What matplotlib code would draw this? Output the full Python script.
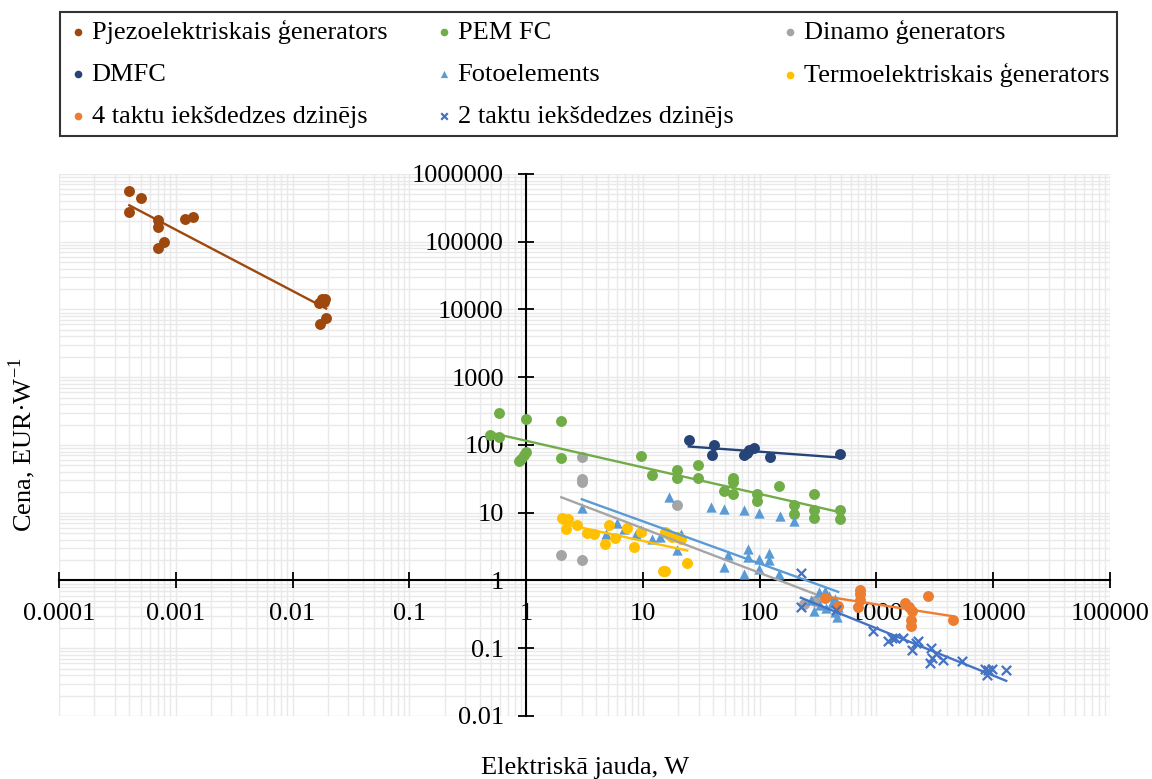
import numpy as np
import matplotlib
matplotlib.use("Agg")
import matplotlib.pyplot as plt
from matplotlib.ticker import FixedLocator, FixedFormatter, LogLocator, NullFormatter

plt.rcParams['font.family'] = ['Liberation Serif', 'DejaVu Serif']
plt.rcParams['mathtext.fontset'] = 'custom'
plt.rcParams['mathtext.rm'] = 'Liberation Serif'
plt.rcParams['font.size'] = 19

# --- data (power W, price EUR/W) ---
piezo_x = [0.0004, 0.0005, 0.0004, 0.0007, 0.0007, 0.0008, 0.0007, 0.0012, 0.0014,
           0.018, 0.0185, 0.017, 0.019, 0.0194, 0.0173]
piezo_y = [552000, 441000, 274000, 209000, 163000, 97700, 80700, 213000, 234000,
           14300, 13000, 12500, 14500, 7400, 6000]

pem_x = [0.49, 0.59, 0.59, 0.87, 0.9, 0.96, 1.0, 1.0, 1.98, 1.98, 9.7, 11.9, 19.6, 19.6,
         29.5, 29.5, 49, 59, 59, 59, 95, 95, 147, 195, 195, 290, 290, 290, 490, 490]
pem_y = [142, 300, 133, 58, 62, 70, 78, 243, 224, 64, 68, 36, 43, 33,
         51, 32, 21, 32, 28, 19, 19, 15, 25, 13, 9.6, 19, 11, 8.3, 11, 8.1]

dinamo_x = [2.0, 3.0, 3.0, 3.0, 3.0, 19.6, 240, 300]
dinamo_y = [2.34, 66, 31.6, 28, 2.02, 13.2, 0.45, 0.5]

dmfc_x = [24.7, 39, 41, 73, 78, 81, 89, 123, 490]
dmfc_y = [119, 72, 100, 72, 77, 83, 89, 66, 74]

foto_x = [3.0, 4.8, 6.0, 6.9, 8.7, 9.7, 11.9, 14.1, 16.7, 19.6, 21, 38, 49, 74, 98, 148, 198,
          54, 49, 74, 79, 79, 98, 98, 120, 120, 145,
          319, 360, 390, 437, 330, 373, 437, 290, 470, 273, 412, 455]
foto_y = [11.8, 4.77, 7.0, 5.8, 4.9, 5.5, 4.1, 4.36, 17.3, 2.8, 4.77, 12.3, 11.2, 10.8, 10.0, 8.9, 7.5,
          2.4, 1.6, 1.23, 2.9, 2.2, 2.09, 1.49, 2.53, 2.02, 1.25,
          0.67, 0.71, 0.6, 0.54, 0.44, 0.39, 0.34, 0.35, 0.4, 0.51, 0.46, 0.29]

termo_x = [2.04, 2.3, 2.2, 2.74, 3.34, 3.8, 4.7, 5.1, 5.8, 7.3, 8.4, 9.7,
           15.6, 16.5, 17.8, 19.6, 21, 14.8, 15.6, 24]
termo_y = [8.3, 8.0, 5.8, 6.6, 5.0, 4.8, 3.5, 6.5, 4.3, 6.0, 3.1, 5.2,
           5.2, 4.9, 4.45, 4.36, 4.1, 1.40, 1.37, 1.8]

takt4_x = [360, 470, 726, 726, 726, 700, 1760, 1900, 2000, 1990, 1990, 2780, 4490]
takt4_y = [0.55, 0.42, 0.72, 0.64, 0.51, 0.40, 0.46, 0.41, 0.36, 0.26, 0.21, 0.6, 0.26]

takt2_x = [225, 225, 449, 942, 1260, 1370, 1430, 1670, 2000, 2200, 2250, 2930, 3000,
           2860, 3260, 3730, 5400, 8500, 9100, 9700, 8900, 12900]
takt2_y = [1.3, 0.41, 0.37, 0.177, 0.127, 0.143, 0.14, 0.143, 0.094, 0.119, 0.128, 0.1, 0.072,
           0.06, 0.083, 0.068, 0.065, 0.049, 0.047, 0.05, 0.04, 0.048]

x_ticks = [1e-4, 1e-3, 1e-2, 1e-1, 1, 10, 100, 1000, 10000, 100000]
x_tick_labels = ['0.0001', '0.001', '0.01', '0.1', '1', '10', '100', '1000', '10000', '100000']
y_ticks = [0.01, 0.1, 1, 10, 100, 1000, 10000, 100000, 1000000]
y_tick_labels = ['0.01', '0.1', '1', '10', '100', '1000', '10000', '100000', '1000000']

series = [
    ('Pjezoelektriskais ģenerators', piezo_x, piezo_y, '#9E480E', 'o'),
    ('PEM FC', pem_x, pem_y, '#70AD47', 'o'),
    ('Dinamo ģenerators', dinamo_x, dinamo_y, '#A5A5A5', 'o'),
    ('DMFC', dmfc_x, dmfc_y, '#264478', 'o'),
    ('Fotoelements', foto_x, foto_y, '#5B9BD5', '^'),
    ('Termoelektriskais ģenerators', termo_x, termo_y, '#FFC000', 'o'),
    ('4 taktu iekšdedzes dzinējs', takt4_x, takt4_y, '#ED7D31', 'o'),
    ('2 taktu iekšdedzes dzinējs', takt2_x, takt2_y, '#4472C4', 'x'),
]

fig = plt.figure(figsize=(11.52, 7.79), dpi=100)
ax = fig.add_axes([0.0512, 0.0809, 0.9124, 0.6958])
ax.set_xscale('log')
ax.set_yscale('log')
ax.set_xlim(1e-4, 1e5)
ax.set_ylim(1e-2, 1e6)

handles = {}
for label, xs, ys, color, marker in series:
    xs = np.array(xs)
    ys = np.array(ys)
    if marker == 'x':
        h = ax.scatter(xs, ys, marker='x', s=45, color=color, linewidths=1.6, zorder=3, label=label)
    elif marker == '^':
        h = ax.scatter(xs, ys, marker='^', s=55, color=color, linewidths=0, zorder=3, label=label)
    else:
        h = ax.scatter(xs, ys, marker='o', s=62, color=color, linewidths=0, zorder=3, label=label)
    handles[label] = h
    # power trendline
    k, b = np.polyfit(np.log10(xs), np.log10(ys), 1)
    xl = np.array([xs.min(), xs.max()])
    ax.plot(xl, 10 ** (b + k * np.log10(xl)), color=color, lw=1.7, zorder=4)

# gridlines (major + minor) drawn behind everything, so tick labels stay on top
grid_loc = LogLocator(base=10, subs=range(1, 10), numticks=40)
for gx in grid_loc.tick_values(1e-4, 1e5):
    if 1e-4 <= gx <= 1e5:
        ax.axvline(gx, color='#e9e9e9', lw=1.0, zorder=0)
for gy in grid_loc.tick_values(1e-2, 1e6):
    if 1e-2 <= gy <= 1e6:
        ax.axhline(gy, color='#e9e9e9', lw=1.0, zorder=0)
ax.xaxis.set_minor_formatter(NullFormatter())
ax.yaxis.set_minor_formatter(NullFormatter())

# axes crossing at (1, 1)
ax.spines['left'].set_position(('data', 1))
ax.spines['bottom'].set_position(('data', 1))
ax.spines['top'].set_visible(False)
ax.spines['right'].set_visible(False)
for s in ('left', 'bottom'):
    ax.spines[s].set_linewidth(1.5)
    ax.spines[s].set_zorder(2.5)

ax.xaxis.set_major_locator(FixedLocator(x_ticks))
ax.xaxis.set_major_formatter(FixedFormatter(x_tick_labels))
ax.yaxis.set_major_locator(FixedLocator(y_ticks))
ax.yaxis.set_major_formatter(FixedFormatter(y_tick_labels))
ax.tick_params(which='major', direction='inout', length=12, width=1.3, pad=10, labelsize=19)
ax.tick_params(which='minor', length=0)

fig.text(0.019, 0.4288, 'Cena, EUR·W$^{\\mathrm{-1}}$', rotation=90, ha='center', va='center', fontsize=19)
fig.text(0.5078, 0.0141, 'Elektriskā jauda, W', ha='center', va='center', fontsize=19)

order = ['Pjezoelektriskais ģenerators', 'DMFC', '4 taktu iekšdedzes dzinējs',
         'PEM FC', 'Fotoelements', '2 taktu iekšdedzes dzinējs',
         'Dinamo ģenerators', 'Termoelektriskais ģenerators']
leg = fig.legend([handles[o] for o in order], order, ncol=3, mode='expand',
                 loc='center', bbox_to_anchor=(0.0521, 0.8254, 0.9175, 0.1592),
                 frameon=True, fancybox=False, edgecolor='black', fontsize=19,
                 markerscale=0.7, handletextpad=0.1, handlelength=0.8,
                 labelspacing=0.7, borderpad=0.3, borderaxespad=0)
leg.get_frame().set_linewidth(1.5)

fig.savefig('out.png', dpi=100)
